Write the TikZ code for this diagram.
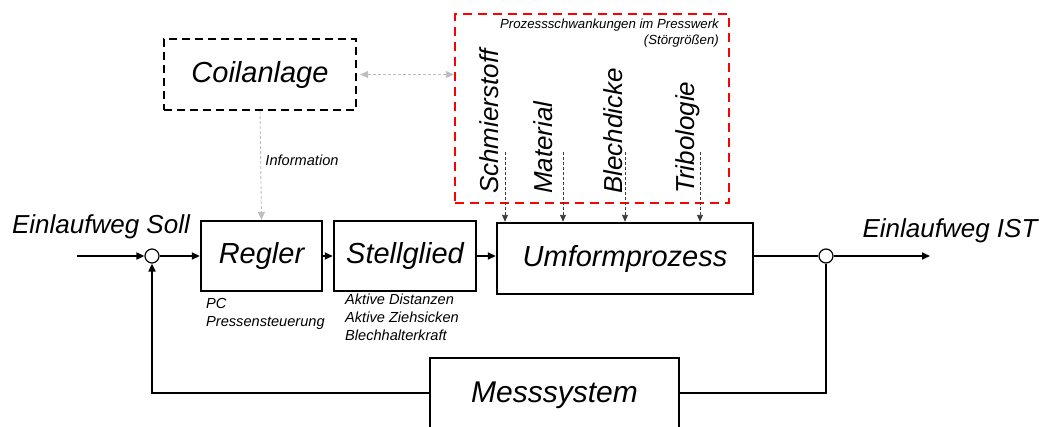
\documentclass[tikz,border=0pt]{standalone}
\usepackage{fontspec}
\setmainfont{Liberation Sans}
\usetikzlibrary{arrows.meta}
\newcommand\fsz[2]{\fontsize{#1}{#2}\selectfont\itshape}
\definecolor{lgray}{RGB}{190,190,190}
\definecolor{dgray}{RGB}{60,60,60}
\tikzset{
  blockbox/.style={draw, line width=2.4pt, inner sep=0pt, font=\fsz{29}{34}},
  sumcirc/.style={draw, circle, line width=1.2pt, minimum size=14pt, inner sep=0pt, fill=white},
  sig/.style={line width=1.8pt},
  sigarrow/.style={sig, -{Triangle[length=8pt,width=7pt]}},
  distarrow/.style={line width=0.9pt, dgray, dashed, dash pattern=on 3pt off 2pt, -{Triangle[length=7pt,width=6pt]}},
  infoarrow/.style={line width=0.9pt, lgray, dash pattern=on 3pt off 2pt, -{Triangle[length=8pt,width=7pt]}},
  biginfo/.style={line width=0.9pt, lgray, dash pattern=on 3pt off 2pt, {Triangle[length=8pt,width=7pt]}-{Triangle[length=8pt,width=7pt]}},
  vlabel/.style={rotate=90, anchor=west, inner sep=0pt, font=\fsz{26}{30}},
  smalllabel/.style={inner sep=0pt, align=left, font=\fsz{14.6}{18}},
  biglabel/.style={inner sep=0pt, font=\fsz{26}{30}}
}
\begin{document}
\begin{tikzpicture}[x=1pt, y=-1pt]
\useasboundingbox (0,0) rectangle (1042,426);
\clip (0,0) rectangle (1042,426);
\fill[white] (0,0) rectangle (1042,426);

% Coilanlage
\node[draw, line width=2.4pt, dash pattern=on 8pt off 5pt, minimum width=192pt, minimum height=71pt, inner sep=0pt, font=\fsz{29}{34}] (coil) at (260,74.5) {Coilanlage};

% red disturbance frame
\node[draw=red, line width=2.4pt, dash pattern=on 9pt off 6pt, minimum width=274pt, minimum height=189pt, inner sep=0pt] (frame) at (592,108.5) {};
\node[inner sep=0pt, align=right, anchor=north east, font=\fsz{13.2}{16}] (frametitle) at (719,19) {Prozessschwankungen im Presswerk\\(Störgrößen)};

% vertical disturbance labels
\node[vlabel] (schm) at (489,194) {Schmierstoff};
\node[vlabel] (mat) at (543,194) {Material};
\node[vlabel] (blech) at (613,194) {Blechdicke};
\node[vlabel] (trib) at (688,194) {Tribologie};

% main blocks
\node[blockbox, minimum width=121pt, minimum height=70pt] (regler) at (261.5,256) {Regler};
\node[blockbox, minimum width=142pt, minimum height=70pt] (stell) at (405,256) {Stellglied};
\node[blockbox, minimum width=256pt, minimum height=71pt] (umf) at (625,258.5) {Umformprozess};
\node[blockbox, minimum width=249pt, minimum height=74pt, font=\fsz{30}{34}] (mess) at (554.5,395) {Messsystem};

% summing junctions
\node[sumcirc] (lc) at (152,256) {};
\node[sumcirc] (rc) at (826,256) {};

% texts
\node[biglabel] (soll) at (101,227) {Einlaufweg Soll};
\node[biglabel] (ist) at (950,231) {Einlaufweg IST};
\node[smalllabel, anchor=north west] (pc) at (206,298) {PC\\Pressensteuerung};
\node[smalllabel, anchor=north west] (akt) at (345,294) {Aktive Distanzen\\Aktive Ziehsicken\\Blechhalterkraft};
\node[smalllabel] (info) at (302,160) {Information};

% coordinates
\coordinate (in) at (77,256);
\coordinate (out) at (930,256);
\coordinate (fbr) at (826,393);
\coordinate (fbl) at (152,393);
\coordinate (d1) at (505,152);
\coordinate (d2) at (563,152);
\coordinate (d3) at (625,152);
\coordinate (d4) at (700,152);

% signal path
\draw[sigarrow] (in) -- (lc.west);
\draw[sigarrow] (lc.east) -- (regler.west);
\draw[sigarrow] (regler.east) -- (stell.west);
\draw[sigarrow] (stell.east) -- (stell.east -| umf.west);
\draw[sig] (umf.east |- rc.west) -- (rc.west);
\draw[sigarrow] (rc.east) -- (out);
\draw[sig] (rc.south) -- (fbr) -- (mess.east |- fbr);
\draw[sigarrow] (mess.west |- fbl) -- (fbl) -- (lc.south);

% disturbances
\draw[distarrow] (d1) -- (d1 |- umf.north);
\draw[distarrow] (d2) -- (d2 |- umf.north);
\draw[distarrow] (d3) -- (d3 |- umf.north);
\draw[distarrow] (d4) -- (d4 |- umf.north);

% information
\draw[infoarrow] (coil.south) -- (regler.north);
\draw[biginfo] (coil.east) ++(3,0) -- (frame.west |- coil.east);
\end{tikzpicture}
\end{document}
